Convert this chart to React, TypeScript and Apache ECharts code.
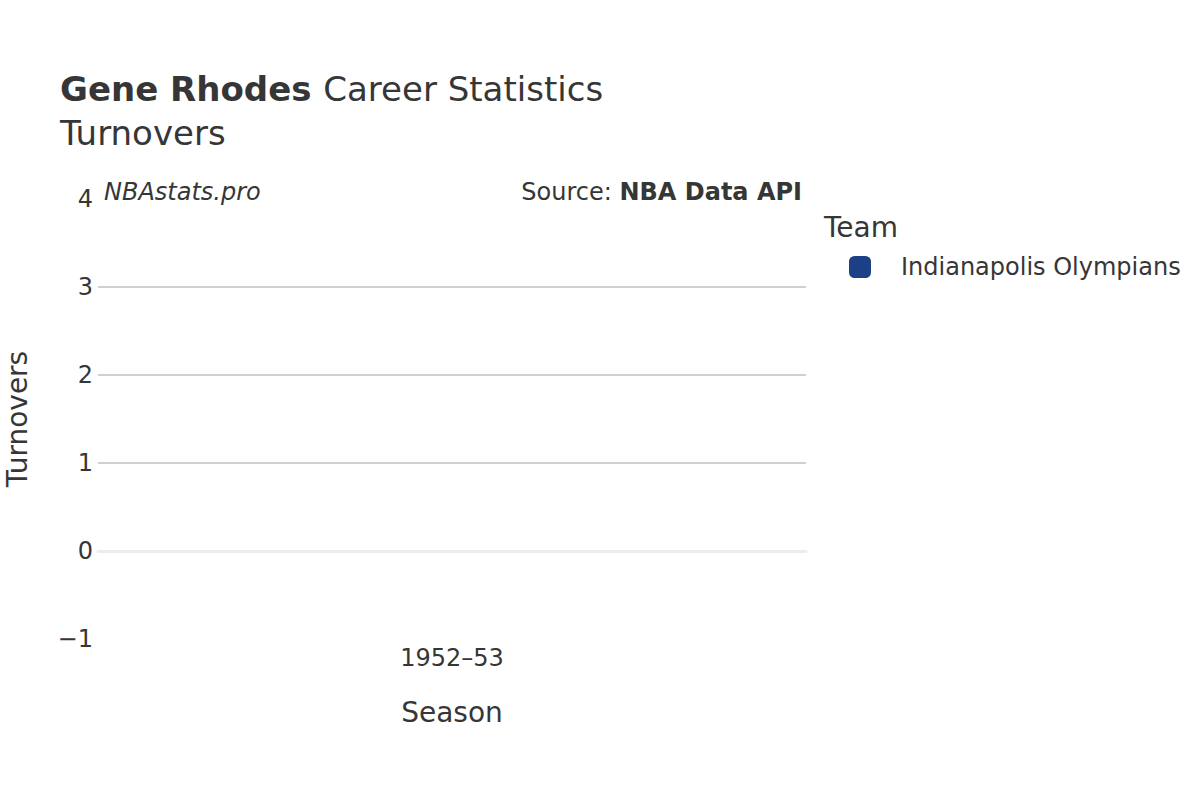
import { useEffect, useRef } from "react";
import * as echarts from "echarts";

// Season categories and the team's turnovers (not recorded that season).
const seasons = ["1952–53"];
const teamName = "Indianapolis Olympians";
const turnovers: (number | null)[] = [null];
const teamColor = "#1b4085";

const yMin = -1;
const yMax = 4;

const INK = "#363636";
const FONT = "DejaVu Sans";

export default function App() {
  const boxRef = useRef<HTMLDivElement>(null);

  useEffect(() => {
    if (!boxRef.current) return;
    const chart = echarts.init(boxRef.current, undefined, { renderer: "svg" });
    chart.setOption({
      animation: false,
      textStyle: { fontFamily: FONT, color: INK },
      title: {
        left: 60,
        top: 67,
        padding: 0,
        text: "{b|Gene Rhodes }{n|Career Statistics}\n{n|Turnovers}",
        textStyle: {
          fontWeight: "normal",
          rich: {
            b: { fontFamily: FONT, fontSize: 34, fontWeight: "bold", color: INK, lineHeight: 44 },
            n: { fontFamily: FONT, fontSize: 34, fontWeight: "normal", color: INK, lineHeight: 44 },
          },
        },
      },
      grid: { left: 98, right: 394, top: 199, bottom: 161, outerBoundsMode: "none", containLabel: false },
      xAxis: {
        type: "category",
        data: seasons,
        name: "Season",
        nameLocation: "middle",
        nameGap: 59,
        nameTextStyle: { fontSize: 28, color: INK },
        axisLine: { show: true, onZero: true, lineStyle: { color: "#ececec", width: 3 } },
        axisTick: { show: false },
        axisLabel: { fontSize: 24, color: INK, margin: 7 },
        splitLine: { show: false },
      },
      yAxis: {
        type: "value",
        min: yMin,
        max: yMax,
        interval: 1,
        name: "Turnovers",
        nameLocation: "middle",
        nameGap: 67,
        nameTextStyle: { fontSize: 28, color: INK },
        axisLine: { show: false },
        axisTick: { show: false },
        axisLabel: {
          fontSize: 24,
          color: INK,
          margin: 5,
          formatter: (v: number) => String(v).replace("-", "−"),
        },
        splitLine: {
          show: true,
          lineStyle: {
            color: ["rgba(0,0,0,0)", "rgba(0,0,0,0)", "#c0c0c0", "#c0c0c0", "#c0c0c0", "rgba(0,0,0,0)"],
            width: 1.5,
          },
        },
      },
      legend: {
        left: 844,
        top: 250,
        orient: "vertical",
        icon: "roundRect",
        itemWidth: 22,
        itemHeight: 22,
        itemGap: 10,
        textStyle: { fontSize: 24, color: INK, padding: [0, 0, 0, 25], fontFamily: FONT },
        data: [teamName],
      },
      graphic: [
        {
          type: "text",
          left: 824,
          top: 213,
          style: { text: "Team", fontSize: 28, fill: INK, fontFamily: FONT },
        },
        {
          type: "text",
          left: 104,
          top: 180,
          style: { text: "NBAstats.pro", fontSize: 24, fontStyle: "italic", fill: INK, fontFamily: FONT },
        },
        {
          type: "text",
          right: 398,
          top: 180,
          style: {
            text: "{n|Source: }{b|NBA Data API}",
            rich: {
              n: { fontSize: 24, fill: INK, fontFamily: FONT },
              b: { fontSize: 24, fontWeight: "bold", fill: INK, fontFamily: FONT },
            },
          },
        },
      ],
      series: [
        {
          name: teamName,
          type: "bar",
          data: turnovers,
          itemStyle: { color: teamColor },
          barWidth: "60%",
        },
      ],
    });
    return () => chart.dispose();
  }, []);

  return (
    <div
      ref={boxRef}
      style={{ width: 1200, height: 800, position: "absolute", left: 0, top: 0, background: "#fff" }}
    />
  );
}
